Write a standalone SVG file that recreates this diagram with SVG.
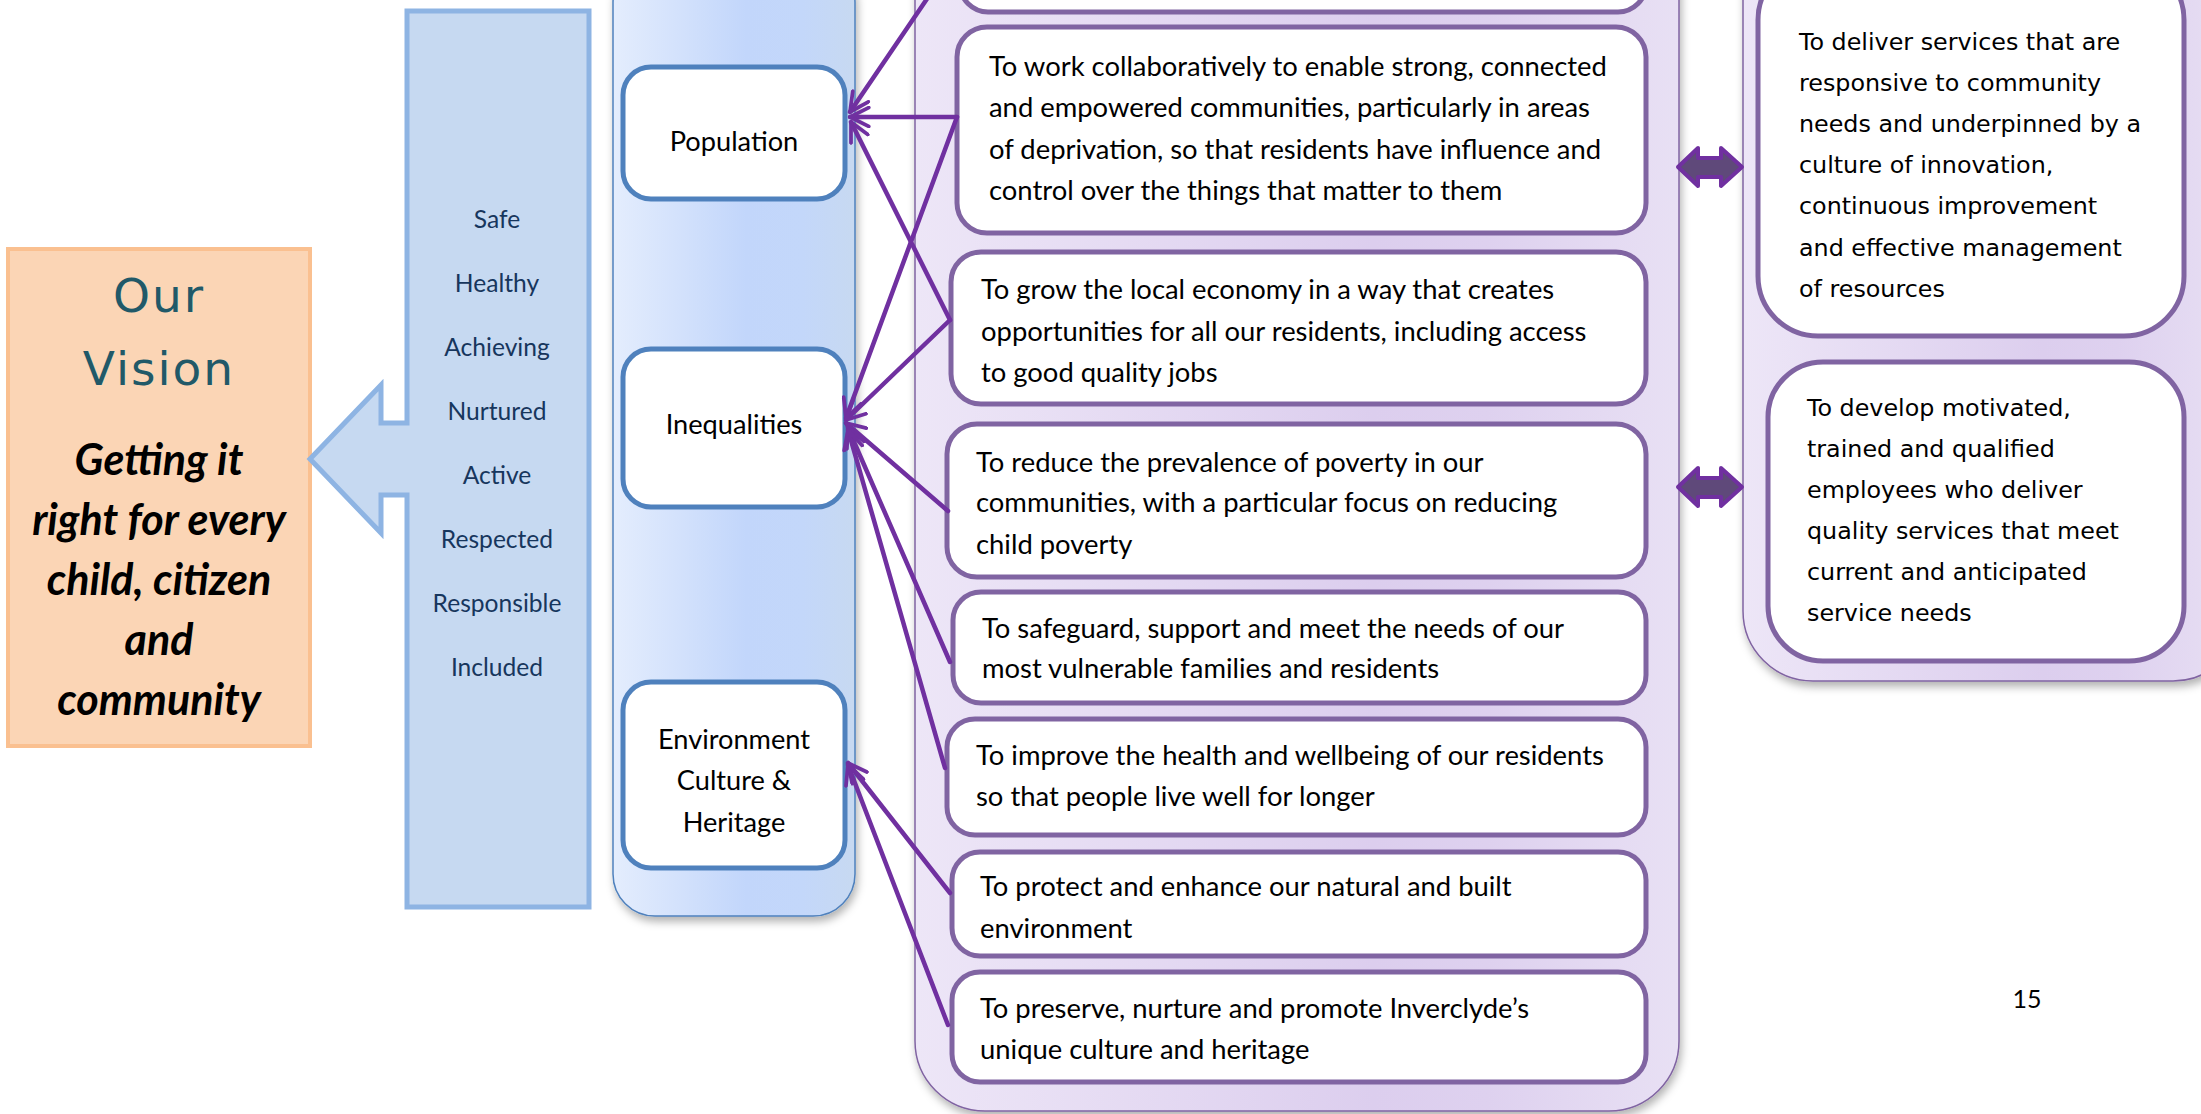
<svg xmlns="http://www.w3.org/2000/svg" width="2201" height="1114" viewBox="0 0 2201 1114">
<defs>
<style>
.cal{font-family:Lato,"Open Sans","DejaVu Sans",sans-serif;fill:#000;}
.box{font-size:27.4px;}
.rt{font-family:"DejaVu Sans","Open Sans",sans-serif;font-size:23.8px;fill:#000;}
.val{font-family:Lato,"Open Sans",sans-serif;font-size:24.6px;fill:#17365D;text-anchor:middle;}
.node{font-family:Lato,"Open Sans",sans-serif;font-size:27.2px;fill:#000;text-anchor:middle;}
.pbox{fill:#fff;stroke:#8064A2;stroke-width:5;}
.bbox{fill:#fff;stroke:#4F81BD;stroke-width:5;}
.conn{fill:none;stroke:#7030A0;stroke-width:4.5;stroke-linecap:round;marker-end:url(#arr);}
.dbl{fill:#5F497A;stroke:#7030A0;stroke-width:4;stroke-linejoin:round;}
</style>
<linearGradient id="gBlue" x1="0" y1="0" x2="1" y2="0">
<stop offset="0" stop-color="#E4EDFD"/>
<stop offset="0.55" stop-color="#C2D6FB"/>
<stop offset="0.78" stop-color="#C3D7FA"/>
<stop offset="1" stop-color="#C7D9F1"/>
</linearGradient>
<linearGradient id="gPurple" x1="0" y1="0" x2="1" y2="0">
<stop offset="0" stop-color="#EDE6F7"/>
<stop offset="0.6" stop-color="#DCCEEE"/>
<stop offset="0.75" stop-color="#DED1EF"/>
<stop offset="1" stop-color="#E8E0F4"/>
</linearGradient>
<filter id="sh" x="-10%" y="-10%" width="130%" height="130%">
<feDropShadow dx="2" dy="5" stdDeviation="4" flood-color="#000" flood-opacity="0.3"/>
</filter>
<marker id="arr" viewBox="0 0 12 12" refX="11" refY="6" markerWidth="5" markerHeight="5" orient="auto" markerUnits="strokeWidth">
<path d="M1,1 L11,6 L1,11" fill="none" stroke="#7030A0" stroke-width="2" stroke-linecap="round" stroke-linejoin="round"/>
</marker>
</defs>
<rect width="2201" height="1114" fill="#fff"/>

<g id="vision">
<rect x="8" y="249" width="302" height="497" fill="#FBD5B5" stroke="#FAC090" stroke-width="4"/>
<text x="159" y="312" font-family="DejaVu Sans,Verdana,sans-serif" font-size="47" fill="#215968" text-anchor="middle" letter-spacing="2">Our</text>
<text x="159" y="385" font-family="DejaVu Sans,Verdana,sans-serif" font-size="47" fill="#215968" text-anchor="middle" letter-spacing="2">Vision</text>
<g font-family="Lato,'Open Sans',sans-serif" font-size="43" font-weight="bold" font-style="italic" fill="#000" text-anchor="middle">
<text x="159" y="475">Getting it</text>
<text x="159" y="535">right for every</text>
<text x="159" y="595">child, citizen</text>
<text x="159" y="655">and</text>
<text x="159" y="715">community</text>
</g>
</g>

<g id="values">
<polygon points="407,11 589,11 589,907 407,907 407,495 381,495 381,533 310,459 381,385 381,423 407,423" fill="#C6D9F1" stroke="#8EB4E3" stroke-width="5"/>
<text class="val" x="497" y="228">Safe</text>
<text class="val" x="497" y="292">Healthy</text>
<text class="val" x="497" y="356">Achieving</text>
<text class="val" x="497" y="420">Nurtured</text>
<text class="val" x="497" y="484">Active</text>
<text class="val" x="497" y="548">Respected</text>
<text class="val" x="497" y="612">Responsible</text>
<text class="val" x="497" y="676">Included</text>
</g>

<g id="themes-column">
<rect x="613" y="-40" width="242" height="956" rx="42" fill="url(#gBlue)" stroke="#4F81BD" stroke-width="1.5" filter="url(#sh)"/>
</g>
<g id="population">
<rect class="bbox" x="623" y="67" width="222" height="132" rx="28"/>
<text class="node" x="734" y="151">Population</text>
</g>
<g id="inequalities">
<rect class="bbox" x="623" y="349" width="222" height="158" rx="28"/>
<text class="node" x="734" y="434">Inequalities</text>
</g>
<g id="environment">
<rect class="bbox" x="623" y="682" width="222" height="186" rx="28"/>
<text class="node" x="734" y="749">Environment</text>
<text class="node" x="734" y="790">Culture &amp;</text>
<text class="node" x="734" y="832">Heritage</text>
</g>

<g id="outcomes-column">
<rect x="915" y="-80" width="764" height="1191" rx="70" fill="url(#gPurple)" stroke="#8064A2" stroke-width="1.5" filter="url(#sh)"/>
</g>
<g id="outcome0">
<rect class="pbox" x="960" y="-60" width="686" height="72" rx="28"/>
</g>
<g id="outcome1">
<rect class="pbox" x="957" y="27" width="689" height="206" rx="30"/>
<text class="cal box" x="989" y="76">To work collaboratively to enable strong, connected</text>
<text class="cal box" x="989" y="117">and empowered communities, particularly in areas</text>
<text class="cal box" x="989" y="159">of deprivation, so that residents have influence and</text>
<text class="cal box" x="989" y="200">control over the things that matter to them</text>
</g>
<g id="outcome2">
<rect class="pbox" x="951" y="252" width="695" height="152" rx="30"/>
<text class="cal box" x="981" y="299">To grow the local economy in a way that creates</text>
<text class="cal box" x="981" y="341">opportunities for all our residents, including access</text>
<text class="cal box" x="981" y="382">to good quality jobs</text>
</g>
<g id="outcome3">
<rect class="pbox" x="947" y="424" width="699" height="153" rx="30"/>
<text class="cal box" x="976" y="472">To reduce the prevalence of poverty in our</text>
<text class="cal box" x="976" y="512">communities, with a particular focus on reducing</text>
<text class="cal box" x="976" y="554">child poverty</text>
</g>
<g id="outcome4">
<rect class="pbox" x="953" y="592" width="693" height="111" rx="28"/>
<text class="cal box" x="982" y="638">To safeguard, support and meet the needs of our</text>
<text class="cal box" x="982" y="678">most vulnerable families and residents</text>
</g>
<g id="outcome5">
<rect class="pbox" x="947" y="719" width="699" height="116" rx="28"/>
<text class="cal box" x="976" y="765">To improve the health and wellbeing of our residents</text>
<text class="cal box" x="976" y="806">so that people live well for longer</text>
</g>
<g id="outcome6">
<rect class="pbox" x="952" y="852" width="694" height="104" rx="28"/>
<text class="cal box" x="980" y="896">To protect and enhance our natural and built</text>
<text class="cal box" x="980" y="938">environment</text>
</g>
<g id="outcome7">
<rect class="pbox" x="952" y="972" width="694" height="110" rx="28"/>
<text class="cal box" x="980" y="1018">To preserve, nurture and promote Inverclyde’s</text>
<text class="cal box" x="980" y="1059">unique culture and heritage</text>
</g>

<g id="organisation-column">
<rect x="1743" y="-80" width="500" height="761" rx="70" fill="url(#gPurple)" stroke="#8064A2" stroke-width="1.5" filter="url(#sh)"/>
</g>
<g id="org1">
<rect class="pbox" x="1758" y="-40" width="426" height="376" rx="60"/>
<text class="rt" x="1799" y="50">To deliver services that are</text>
<text class="rt" x="1799" y="91">responsive to community</text>
<text class="rt" x="1799" y="132">needs and underpinned by a</text>
<text class="rt" x="1799" y="173">culture of innovation,</text>
<text class="rt" x="1799" y="214">continuous improvement</text>
<text class="rt" x="1799" y="256">and effective management</text>
<text class="rt" x="1799" y="297">of resources</text>
</g>
<g id="org2">
<rect class="pbox" x="1768" y="362" width="416" height="299" rx="55"/>
<text class="rt" x="1807" y="416">To develop motivated,</text>
<text class="rt" x="1807" y="457">trained and qualified</text>
<text class="rt" x="1807" y="498">employees who deliver</text>
<text class="rt" x="1807" y="539">quality services that meet</text>
<text class="rt" x="1807" y="580">current and anticipated</text>
<text class="rt" x="1807" y="621">service needs</text>
</g>

<g id="connectors">
<line class="conn" x1="933" y1="-10" x2="850" y2="112"/>
<line class="conn" x1="957" y1="117" x2="850" y2="117"/>
<line class="conn" x1="957" y1="117" x2="846" y2="418"/>
<line class="conn" x1="950" y1="320" x2="851" y2="122"/>
<line class="conn" x1="950" y1="320" x2="846" y2="420"/>
<line class="conn" x1="948" y1="511" x2="846" y2="423"/>
<line class="conn" x1="950" y1="662" x2="848" y2="428"/>
<line class="conn" x1="945" y1="768" x2="848" y2="430"/>
<line class="conn" x1="950" y1="893" x2="848" y2="763"/>
<line class="conn" x1="948" y1="1025" x2="848" y2="765"/>
<polygon class="dbl" points="1678,167 1698,148 1698,158 1721,158 1721,148 1742,167 1721,186 1721,177 1698,177 1698,186"/>
<polygon class="dbl" points="1678,487 1698,468 1698,478 1721,478 1721,468 1742,487 1721,506 1721,497 1698,497 1698,506"/>
</g>

<text x="2027" y="1008" font-family="Lato,'Open Sans',sans-serif" font-size="25" fill="#000" text-anchor="middle">15</text>
</svg>
